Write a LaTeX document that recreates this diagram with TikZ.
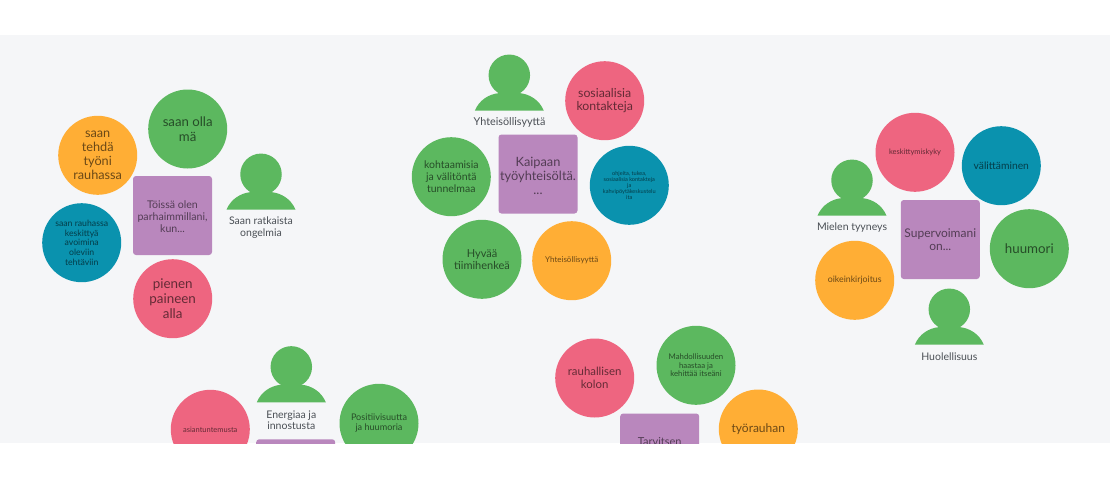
\documentclass[tikz,border=0pt]{standalone}
\usepackage{fontspec}
\setmainfont{Lato}
\definecolor{bgc}{HTML}{F5F6F8}
\definecolor{gr}{HTML}{5CB85F}
\definecolor{og}{HTML}{FFAE35}
\definecolor{pk}{HTML}{EE6580}
\definecolor{bl}{HTML}{0A92AE}
\definecolor{pu}{HTML}{B987BD}
\definecolor{lab}{HTML}{4A4F55}
\newcommand{\fs}[1]{\fontsize{#1}{1.1\dimexpr #1pt\relax}\selectfont}
\tikzset{
  x=1pt,y=-1pt,
  bubble/.style={circle,draw=none,minimum size=79pt,inner sep=0pt,align=center,text=black,text opacity=0.58},
  gb/.style={bubble,fill=gr},
  ob/.style={bubble,fill=og},
  pb/.style={bubble,fill=pk},
  bb/.style={bubble,fill=bl},
  card/.style={rectangle,rounded corners=3pt,fill=pu,draw=none,minimum size=79pt,inner sep=0pt,align=center,text=black,text opacity=0.55},
  cardtext/.style={align=center,inner sep=0pt,text=black,text opacity=0.55},
  head/.style={circle,fill=gr,draw=none,minimum size=41.5pt,inner sep=0pt},
  plabel/.style={align=center,text=lab,inner sep=0pt,font=\fs{10.5}},
  pics/person/.style={code={
    \fill[gr] (-34.5,0) .. controls (-30,-11) and (-20,-16.5) .. (-11,-17.5)
      -- (11,-17.5) .. controls (20,-16.5) and (30,-11) .. (34.5,0) -- cycle;
    \node[head] at (0,-35.4) {};
  }}
}
\begin{document}
\begin{tikzpicture}
\useasboundingbox (0,0) rectangle (1110,477);
\fill[white] (0,0) rectangle (1110,477);
\fill[bgc] (0,35) rectangle (1110,443);
\begin{scope}
\clip (0,35) rectangle (1110,443);
% group 1
\node[gb,font=\fs{13.2}] (a1) at (187.7,129) {saan olla\\mä};
\node[ob,font=\fs{12.7}] (a2) at (97.7,155.3) {saan\\tehdä\\työni\\rauhassa};
\node[bb,font=\fs{8.7}] (a3) at (81.7,242.7) {saan rauhassa\\keskittyä\\avoimina\\oleviin\\tehtäviin};
\node[pb,font=\fs{13.4}] (a4) at (172.7,298.7) {pienen\\paineen\\alla};
\node[card] (a5) at (172.5,215.5) {};
\node[cardtext,font=\fs{10.6}] (a5t) at (172.5,216.5) {Töissä olen\\parhaimmillani,\\kun...};
\pic at (261,209.7) {person};
\node[plabel] (a6) at (261,227.5) {Saan ratkaista\\ongelmia};
% group 2
\pic at (509.3,110.7) {person};
\node[plabel,font=\fs{10.8}] (b1) at (509.5,122.5) {Yhteisöllisyyttä};
\node[pb,font=\fs{12.3}] (b2) at (604.7,100.7) {sosiaalisia\\kontakteja};
\node[gb,font=\fs{10.5}] (b3) at (451.3,176.7) {kohtaamisia\\ja välitöntä\\tunnelmaa};
\node[card] (b4) at (538,174) {};
\node[cardtext,font=\fs{12.8}] (b4t) at (538,175.5) {Kaipaan\\työyhteisöltä.\\...};
\node[bb,font=\fs{5.6}] (b5) at (629.3,185.3) {ohjeita, tukea,\\sosiaalisia kontakteja\\ja\\kahvipöytäkeskustelu\\ita};
\node[ob,font=\fs{8}] (b6) at (571.7,260.7) {Yhteisöllisyyttä};
\node[gb,font=\fs{11}] (b7) at (482,259.3) {Hyvää\\tiimihenkeä};
% group 3
\node[pb,font=\fs{7.5}] (c1) at (915,152.3) {keskittymiskyky};
\node[bb,font=\fs{10.3}] (c2) at (1001.3,165.7) {välittäminen};
\pic at (852,215.7) {person};
\node[plabel] (c3) at (852,228) {Mielen tyyneys};
\node[card,font=\fs{12}] (c4) at (940.3,239.5) {Supervoimani\\on...};
\node[gb,font=\fs{13.3}] (c5) at (1029.3,248.7) {huumori};
\node[ob,font=\fs{8.8}] (c6) at (854.7,280.3) {oikeinkirjoitus};
\pic at (949.3,344.7) {person};
\node[plabel] (c7) at (949.3,357) {Huolellisuus};
% group 4
\pic at (291.3,402.3) {person};
\node[plabel] (d1) at (291.3,420) {Energiaa ja\\innostusta};
\node[pb,font=\fs{7.5}] (d2) at (210.3,429.3) {asiantuntemusta};
\node[gb,font=\fs{9.1}] (d3) at (379,423.3) {Positiivisuutta\\ja huumoria};
\node[card] (d4) at (295.7,478.8) {};
% group 5
\node[pb,font=\fs{11.4}] (e1) at (594.7,378) {rauhallisen\\kolon};
\node[gb,font=\fs{7.8}] (e2) at (696,365.3) {Mahdollisuuden\\haastaa ja\\kehittää itseäni};
\node[ob,font=\fs{12}] (e3) at (758.3,429) {työrauhan};
\node[card,anchor=north] (e4) at (659.7,413.3) {};
\node[cardtext,font=\fs{11}] (e5) at (659.7,442) {Tarvitsen};
\end{scope}
\end{tikzpicture}
\end{document}
